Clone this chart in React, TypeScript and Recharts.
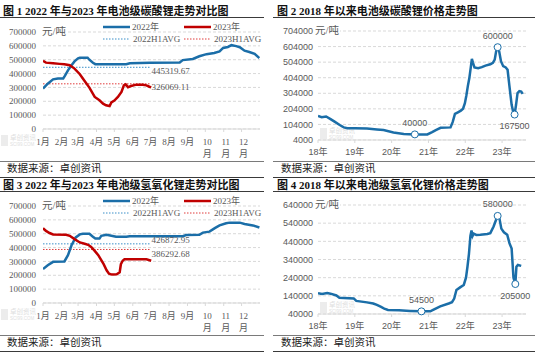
import React from 'react';
import { LineChart, Line, XAxis, YAxis, CartesianGrid, ReferenceDot, Legend } from 'recharts';

const SERIF = '"Liberation Serif", "Noto Sans CJK SC", serif';
const SANS = '"Liberation Sans", "Noto Sans CJK SC", sans-serif';
const CJK = '"Liberation Serif", "Noto Sans CJK SC", sans-serif';
const BLUE = '#1b6ea8';
const BLUE_AVG = '#3a8fc8';
const RED = '#c00000';
const RED_AVG = '#e03c3c';
const GRAY = '#595959';
const GRID = '#d9d9d9';

// ---- axis labels ----
const monthLabels = ['1月', '2月', '3月', '4月', '5月', '6月', '7月', '8月', '9月', '10月', '11月', '12月'];
const monthStarts = [0, 31, 59, 90, 120, 151, 181, 212, 243, 273, 304, 334];
const yearLabels = ['18年', '19年', '20年', '21年', '22年', '23年'];
const yearStarts = [0, 1, 2, 3, 4, 5];
const ticksCompare = [0, 100000, 200000, 300000, 400000, 500000, 600000, 700000];
const ticksLc = [4000, 104000, 204000, 304000, 404000, 504000, 604000, 704000];
const ticksLh = [40000, 140000, 240000, 340000, 440000, 540000, 640000];
const legendNames = ['2022年', '2023年', '2022H1AVG', '2023H1AVG'];
const avgDays = [0, 181];

// ---- Fig 1: lithium carbonate 2022 vs 2023 (day of year) ----
const lc2022Days = [0, 8, 17, 25, 34, 37, 42, 48, 53, 59, 62, 75, 78, 84, 88, 140, 146, 180, 230, 235, 252, 263, 275, 288, 297, 303, 311, 317, 325, 331, 339, 347, 356, 364];
const lc2022Vals = [292000, 327000, 358000, 365000, 365000, 385000, 423000, 460000, 488000, 510000, 515000, 515000, 500000, 478000, 468000, 468000, 475000, 478000, 480000, 497000, 505000, 525000, 540000, 548000, 560000, 585000, 592000, 605000, 598000, 590000, 565000, 556000, 542000, 512000];
const lc2023Days = [0, 5, 17, 28, 36, 45, 53, 62, 70, 78, 87, 95, 101, 106, 112, 115, 120, 126, 132, 136, 139, 143, 148, 157, 168, 174, 179, 182];
const lc2023Vals = [492000, 479000, 474000, 470000, 467000, 460000, 436000, 395000, 346000, 299000, 231000, 207000, 183000, 171000, 166000, 192000, 205000, 231000, 267000, 315000, 322000, 302000, 310000, 320000, 320000, 315000, 305000, 300000];
const lc2022Avg = 445319.67;
const lc2023Avg = 326069.11;

// ---- Fig 2: lithium carbonate since 2018 (years since Jan 2018) ----
const lcHistX = [0, 0.1, 0.22, 0.33, 0.45, 0.59, 0.7, 0.8, 1.0, 1.33, 1.6, 1.78, 2.05, 2.33, 2.63, 2.97, 3.1, 3.2, 3.33, 3.6, 3.66, 3.72, 3.8, 3.88, 3.94, 3.99, 4.03, 4.07, 4.11, 4.15, 4.18, 4.21, 4.25, 4.35, 4.45, 4.55, 4.68, 4.75, 4.8, 4.84, 4.88, 4.92, 4.97, 5.03, 5.1, 5.15, 5.2, 5.26, 5.31, 5.34, 5.38, 5.42, 5.47, 5.52, 5.56];
const lcHistV = [158000, 150000, 155000, 140000, 122000, 100000, 85000, 80000, 80000, 78000, 72000, 68000, 52000, 43000, 40000, 40000, 55000, 68000, 82000, 85000, 120000, 172000, 182000, 192000, 205000, 240000, 290000, 350000, 400000, 470000, 525000, 500000, 470000, 465000, 472000, 482000, 490000, 500000, 520000, 575000, 600000, 575000, 510000, 478000, 470000, 455000, 350000, 230000, 175000, 167500, 230000, 305000, 318000, 315000, 300000];
const lcMarksX = [2.63, 4.88, 5.34];
const lcMarksV = [40000, 600000, 167500];
const lcMarksPos = ['top', 'top', 'bottom'];

// ---- Fig 3: lithium hydroxide 2022 vs 2023 ----
const lh2022Days = [0, 8, 17, 36, 42, 48, 55, 62, 67, 78, 84, 88, 95, 98, 107, 115, 123, 140, 146, 235, 241, 263, 269, 280, 289, 297, 308, 314, 331, 339, 353, 364];
const lh2022Vals = [245000, 273000, 297000, 300000, 345000, 417000, 473000, 495000, 500000, 500000, 478000, 465000, 465000, 485000, 492000, 485000, 478000, 478000, 482000, 482000, 490000, 492000, 508000, 515000, 540000, 560000, 575000, 580000, 580000, 570000, 560000, 545000];
const lh2023Days = [0, 5, 11, 17, 39, 45, 53, 62, 70, 76, 81, 87, 93, 98, 102, 107, 111, 116, 124, 129, 131, 134, 137, 174, 182];
const lh2023Vals = [540000, 520000, 505000, 495000, 493000, 485000, 461000, 437000, 428000, 420000, 405000, 376000, 345000, 309000, 280000, 236000, 212000, 205000, 207000, 222000, 280000, 305000, 315000, 315000, 305000];
const lh2022Avg = 426872.95;
const lh2023Avg = 386292.68;

// ---- Fig 4: lithium hydroxide since 2018 ----
const lhHistX = [0, 0.11, 0.25, 0.34, 0.5, 0.58, 0.97, 1.04, 1.33, 1.5, 1.6, 1.7, 1.8, 1.9, 2.2, 2.5, 2.81, 3.05, 3.14, 3.32, 3.55, 3.64, 3.7, 3.76, 3.87, 3.96, 4.02, 4.06, 4.1, 4.14, 4.17, 4.2, 4.23, 4.3, 4.41, 4.6, 4.68, 4.77, 4.84, 4.88, 4.93, 4.98, 5.05, 5.14, 5.2, 5.26, 5.31, 5.36, 5.39, 5.43, 5.52];
const lhHistV = [155000, 150000, 155000, 152000, 142000, 130000, 126000, 112000, 104000, 98000, 90000, 80000, 70000, 62000, 60000, 57000, 54500, 54500, 64000, 82000, 98000, 105000, 125000, 172000, 188000, 200000, 240000, 300000, 370000, 470000, 500000, 470000, 482000, 475000, 476000, 480000, 485000, 522000, 560000, 580000, 565000, 510000, 490000, 476000, 430000, 400000, 240000, 205000, 300000, 310000, 305000];
const lhMarksX = [2.81, 4.88, 5.36];
const lhMarksV = [54500, 580000, 205000];
const lhMarksPos = ['top', 'top', 'bottom'];

const toPts = (xs: number[], ys: number[]) => xs.map((x, i) => ({ x, y: ys[i] }));

const MonthTick = (props: any) => {
  const { x, y, payload } = props;
  const i = monthStarts.indexOf(payload.value);
  const style = { fontSize: 9, fill: GRAY, fontFamily: SERIF } as any;
  if (i >= 9) {
    return (
      <g>
        <text x={x + 2} y={y + 8} textAnchor="middle" dominantBaseline="central" {...style}>{String(i + 1)}</text>
        <text x={x + 2} y={y + 19.5} textAnchor="middle" dominantBaseline="central" {...style}>月</text>
      </g>
    );
  }
  return (
    <text x={x} y={y + 8} textAnchor="middle" dominantBaseline="central" {...style}>{monthLabels[i]}</text>
  );
};

const YearTick = (props: any) => {
  const { x, y, payload } = props;
  return (
    <text x={x} y={y + 7} textAnchor="middle" dominantBaseline="central" fontSize={9} fill={GRAY} fontFamily={SANS}>
      {yearLabels[yearStarts.indexOf(payload.value)]}
    </text>
  );
};

const CompareLegend = () => (
  <svg width={170} height={26} style={{ display: 'block', overflow: 'visible' }}>
    <line x1={3} x2={30} y1={6} y2={6} stroke={BLUE} strokeWidth={2.5} />
    <text x={32} y={6} dominantBaseline="central" fontSize={9} fill={GRAY} fontFamily={SERIF}>{legendNames[0]}</text>
    <line x1={84} x2={111} y1={6} y2={6} stroke={RED} strokeWidth={2.5} />
    <text x={113} y={6} dominantBaseline="central" fontSize={9} fill={GRAY} fontFamily={SERIF}>{legendNames[1]}</text>
    <line x1={3} x2={30} y1={18} y2={18} stroke={BLUE_AVG} strokeWidth={1} strokeDasharray="1.5 1.5" />
    <text x={33} y={18} dominantBaseline="central" fontSize={9} fill={GRAY} fontFamily={SERIF}>{legendNames[2]}</text>
    <line x1={84} x2={111} y1={18} y2={18} stroke={RED_AVG} strokeWidth={1} strokeDasharray="1.5 1.5" />
    <text x={114} y={18} dominantBaseline="central" fontSize={9} fill={GRAY} fontFamily={SERIF}>{legendNames[3]}</text>
  </svg>
);

const Frame = ({ left, top, width, title, textLeft }: any) => (
  <>
    <div style={{ position: 'absolute', left: left + textLeft, top: top + 4, fontSize: 11, lineHeight: '15px', fontWeight: 'bold', fontFamily: CJK, color: '#111', whiteSpace: 'nowrap' }}>{title}</div>
    <div style={{ position: 'absolute', left, top: top + 16.5, width, height: 1.5, background: '#3a3a3a' }} />
    <div style={{ position: 'absolute', left, top: top + 160.5, width, height: 1, background: '#7a7a7a' }} />
    <div style={{ position: 'absolute', left: left + textLeft + 4, top: top + 161.5, fontSize: 10.5, lineHeight: '14px', fontFamily: CJK, color: '#222', whiteSpace: 'nowrap' }}>数据来源：卓创资讯</div>
    <div style={{ position: 'absolute', left, top: top + 176.5, width, height: 1.5, background: '#3a3a3a' }} />
  </>
);

const Watermark = ({ left, top }: any) => (
  <div style={{ position: 'absolute', left, top, pointerEvents: 'none' }}>
    <div style={{ position: 'absolute', left: 0, top: 0, width: 7, height: 11, background: '#ececec' }} />
    <div style={{ position: 'absolute', left: 9, top: -1, fontSize: 6.5, lineHeight: '7px', color: '#dedede', fontFamily: CJK, whiteSpace: 'nowrap' }}>卓创资讯</div>
    <div style={{ position: 'absolute', left: 9, top: 6.5, fontSize: 4.5, lineHeight: '5px', color: '#dedede', fontFamily: SANS, whiteSpace: 'nowrap' }}>SCI99.COM</div>
  </div>
);

const UnitLabel = ({ left, top }: any) => (
  <div style={{ position: 'absolute', left, top, fontSize: 10.5, lineHeight: '12px', color: GRAY, fontFamily: CJK, background: '#fff', paddingRight: 1, whiteSpace: 'nowrap' }}>元/吨</div>
);

const avgLabel = (text: string, dy: number) => (p: any) => {
  if (p.index !== 1) return <g key={`e${p.index}`} />;
  return (
    <text key="lbl" x={p.x + 1} y={p.y + dy} dominantBaseline="central" fontSize={9} fill={GRAY} fontFamily={SERIF}>{text}</text>
  );
};

function ComparePanel({ top, title, d22, d23, a22, a23, dy22, dy23, label22, label23 }: any) {
  const avg22 = avgDays.map((x) => ({ x, y: a22 }));
  const avg23 = avgDays.map((x) => ({ x, y: a23 }));
  return (
    <>
      <Frame left={0} top={top} width={264} title={title} textLeft={3} />
      <Watermark left={1} top={top + 135} />
      <div style={{ position: 'absolute', left: 0, top }}>
        <LineChart width={267} height={177} margin={{ top: 32, right: 7, bottom: 18, left: 0 }}>
          <CartesianGrid vertical={false} stroke={GRID} strokeDasharray="3 2" />
          <XAxis type="number" dataKey="x" domain={[0, 365]} ticks={monthStarts} interval={0} height={30}
            axisLine={{ stroke: GRID }} tickLine={{ stroke: GRID }} tickSize={3} tickMargin={2}
            tick={(p: any) => <MonthTick {...p} />} allowDataOverflow />
          <YAxis type="number" domain={[0, 700000]} ticks={ticksCompare} interval={0} width={43}
            axisLine={false} tickLine={false} tickSize={0} tickMargin={7}
            tick={{ fontSize: 9, fill: GRAY, fontFamily: SERIF }} />
          <Legend verticalAlign="middle" align="center" layout="horizontal"
            wrapperStyle={{ position: 'absolute', top: 21, left: 100, width: 170, height: 26 }}
            content={() => <CompareLegend />} />
          <Line data={avg22} dataKey="y" name={legendNames[2]} stroke={BLUE_AVG} strokeWidth={1} strokeDasharray="1.5 1.5" dot={false} isAnimationActive={false} label={avgLabel(label22, dy22)} />
          <Line data={avg23} dataKey="y" name={legendNames[3]} stroke={RED_AVG} strokeWidth={1} strokeDasharray="1.5 1.5" dot={false} isAnimationActive={false} label={avgLabel(label23, dy23)} />
          <Line data={d22} dataKey="y" name={legendNames[0]} stroke={BLUE} strokeWidth={2.5} dot={false} isAnimationActive={false} />
          <Line data={d23} dataKey="y" name={legendNames[1]} stroke={RED} strokeWidth={2.5} dot={false} isAnimationActive={false} />
        </LineChart>
      </div>
      <UnitLabel left={42} top={top + 25.5} />
    </>
  );
}

function HistoryPanel({ top, title, data, domain, ticks, marksX, marksV, marksPos }: any) {
  return (
    <>
      <Frame left={273} top={top} width={262} title={title} textLeft={4} />
      <Watermark left={320} top={top + 128} />
      <div style={{ position: 'absolute', left: 267, top }}>
        <LineChart width={268} height={177} margin={{ top: 31, right: 9, bottom: 12, left: 0 }}>
          <CartesianGrid vertical={false} stroke={GRID} strokeDasharray="3 2" />
          <XAxis type="number" dataKey="x" domain={[0, 5.65]} ticks={yearStarts} interval={0} height={25}
            axisLine={{ stroke: GRID }} tickLine={{ stroke: GRID }} tickSize={3} tickMargin={2}
            tick={(p: any) => <YearTick {...p} />} allowDataOverflow />
          <YAxis type="number" domain={domain} ticks={ticks} interval={0} width={51}
            axisLine={false} tickLine={false} tickSize={0} tickMargin={5}
            tick={{ fontSize: 9, fill: GRAY, fontFamily: SANS }} />
          <Line data={data} dataKey="y" stroke={BLUE} strokeWidth={2.5} dot={false} isAnimationActive={false} />
          {marksX.map((mx: number, i: number) => (
            <ReferenceDot key={i} x={mx} y={marksV[i]} r={3.5} fill="#fff" stroke={BLUE} strokeWidth={1}
              label={{ value: String(marksV[i]), position: marksPos[i], offset: 5, fontSize: 9, fill: GRAY, fontFamily: SANS }} />
          ))}
        </LineChart>
      </div>
      <UnitLabel left={315} top={top + 24.5} />
    </>
  );
}

export default function App() {
  return (
    <div style={{ position: 'absolute', left: 0, top: 0, width: 535, height: 354, background: '#fff', overflow: 'hidden' }}>
      <ComparePanel top={0} title="图 1 2022 年与2023 年电池级碳酸锂走势对比图"
        d22={toPts(lc2022Days, lc2022Vals)} d23={toPts(lc2023Days, lc2023Vals)}
        a22={lc2022Avg} a23={lc2023Avg} dy22={4} dy23={3} label22="445319.67" label23="326069.11" />
      <HistoryPanel top={0} title="图 2 2018 年以来电池级碳酸锂价格走势图"
        data={toPts(lcHistX, lcHistV)} domain={[4000, 704000]} ticks={ticksLc}
        marksX={lcMarksX} marksV={lcMarksV} marksPos={lcMarksPos} />
      <ComparePanel top={174} title="图 3 2022 年与2023 年电池级氢氧化锂走势对比图"
        d22={toPts(lh2022Days, lh2022Vals)} d23={toPts(lh2023Days, lh2023Vals)}
        a22={lh2022Avg} a23={lh2023Avg} dy22={-4} dy23={5} label22="426872.95" label23="386292.68" />
      <HistoryPanel top={174} title="图 4 2018 年以来电池级氢氧化锂价格走势图"
        data={toPts(lhHistX, lhHistV)} domain={[40000, 640000]} ticks={ticksLh}
        marksX={lhMarksX} marksV={lhMarksV} marksPos={lhMarksPos} />
    </div>
  );
}
